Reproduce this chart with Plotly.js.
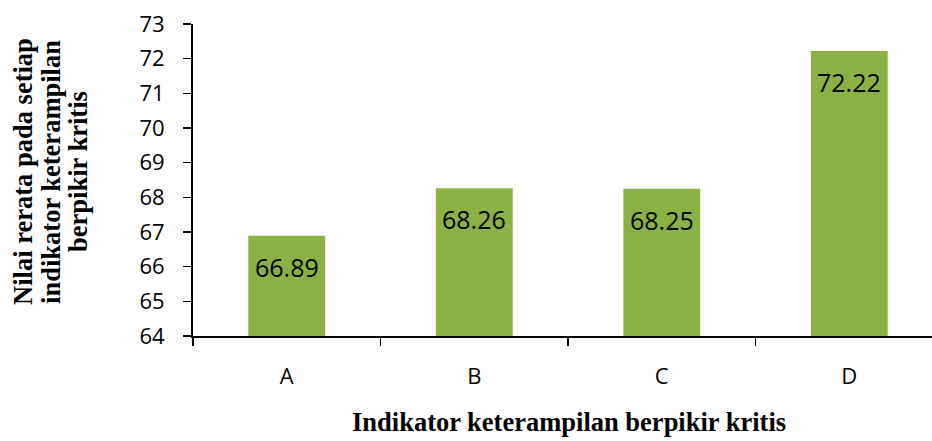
<!DOCTYPE html>
<html>
<head>
<meta charset="utf-8">
<script src="https://cdn.plot.ly/plotly-3.0.1.min.js"></script>
<style>html,body{margin:0;padding:0;background:#fff;}#chart{width:932px;height:441px;}</style>
</head>
<body>
<div id="chart"></div>
<script>
var categories = ['A', 'B', 'C', 'D'];
var values = [66.89, 68.26, 68.25, 72.22];
var valueLabels = ['66.89', '68.26', '68.25', '72.22'];
var yTicks = [64, 65, 66, 67, 68, 69, 70, 71, 72, 73];
var yTitleLines = ['Nilai rerata pada setiap', 'indikator keterampilan', 'berpikir kritis'];
var xTitle = 'Indikator keterampilan berpikir kritis';

var serif = 'Liberation Serif, Times New Roman, serif';
var sans = 'Open Sans, sans-serif';

var trace = {
  type: 'bar',
  x: categories,
  y: values,
  width: 0.41,
  marker: {color: '#8bb043', line: {width: 0}},
  hoverinfo: 'x+y'
};

var annotations = categories.map(function (c, i) {
  return {
    x: c, y: values[i], xref: 'x', yref: 'y',
    text: valueLabels[i], showarrow: false,
    yanchor: 'middle', yshift: -31,
    font: {family: sans, size: 25, color: '#000'}
  };
});

var lineCentersPx = [23, 51, 78];
yTitleLines.forEach(function (t, i) {
  annotations.push({
    xref: 'paper', yref: 'paper', x: 0, y: 0.526,
    xanchor: 'center', yanchor: 'middle',
    xshift: lineCentersPx[i] - 193,
    textangle: -90,
    text: '<b>' + t + '</b>', showarrow: false,
    font: {family: serif, size: 26.5, color: '#000'}
  });
});

annotations.push({
  xref: 'paper', yref: 'paper', x: 0.5, y: 0,
  xanchor: 'center', yanchor: 'middle',
  xshift: 6, yshift: -86,
  text: '<b>' + xTitle + '</b>', showarrow: false,
  font: {family: serif, size: 26.5, color: '#000'}
});

var layout = {
  width: 932, height: 441,
  margin: {l: 193, r: 0, t: 24, b: 105, pad: 0},
  paper_bgcolor: '#fff', plot_bgcolor: '#fff',
  showlegend: false,
  xaxis: {
    type: 'category',
    range: [-0.5, 3.441],
    tickson: 'boundaries',
    ticks: 'outside', ticklen: 8, tickwidth: 1.5, tickcolor: '#000',
    showline: true, linecolor: '#000', linewidth: 2,
    showgrid: false, zeroline: false,
    ticklabelstandoff: 20,
    tickfont: {family: sans, size: 22, color: '#000'},
    automargin: false
  },
  yaxis: {
    range: [64, 73],
    tickvals: yTicks,
    ticktext: yTicks.map(String),
    ticks: 'outside', ticklen: 8, tickwidth: 1.5, tickcolor: '#000',
    showline: true, linecolor: '#000', linewidth: 2,
    showgrid: false, zeroline: false,
    ticklabelstandoff: 14,
    tickfont: {family: sans, size: 22, color: '#000'},
    automargin: false
  },
  annotations: annotations
};

Plotly.newPlot('chart', [trace], layout, {displayModeBar: false, staticPlot: true});
</script>
</body>
</html>
